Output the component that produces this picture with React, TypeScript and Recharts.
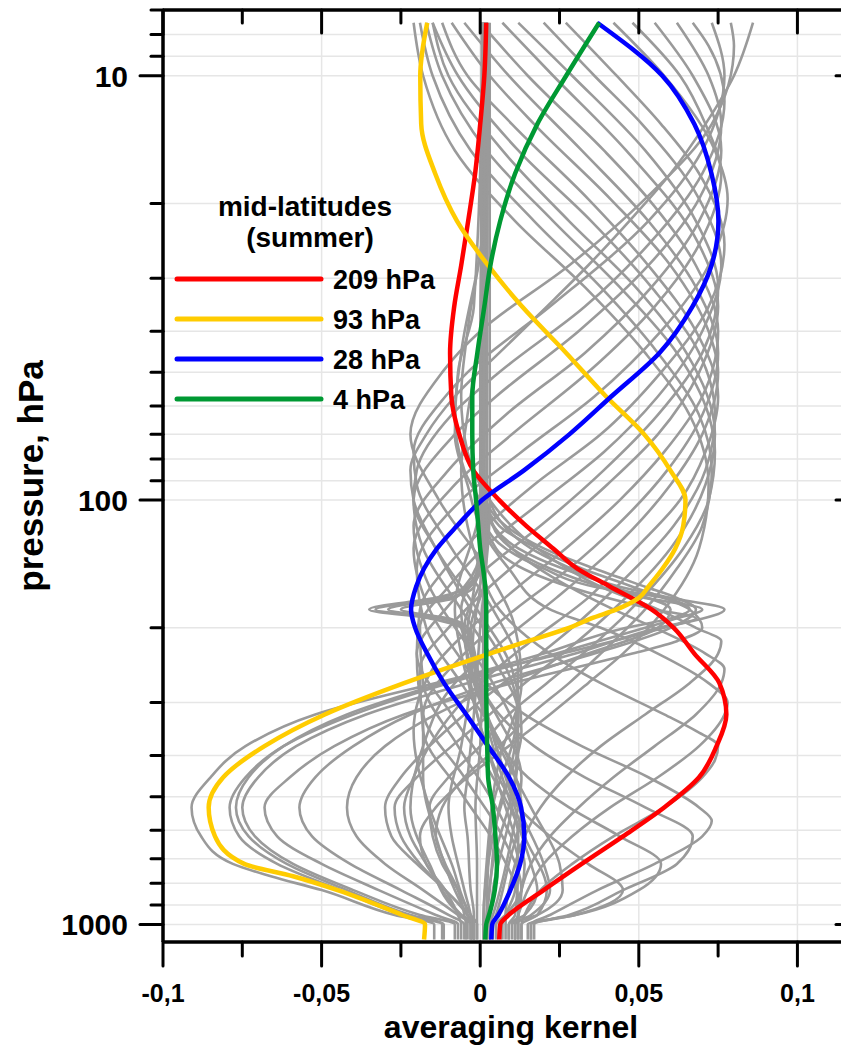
import React from "react";
import {
  ScatterChart,
  Scatter,
  XAxis,
  YAxis,
  CartesianGrid,
  ReferenceLine,
  Label,
} from "recharts";

// every kernel: [pressure hPa, averaging kernel x 1e-3]
const k209: number[][] = [[7.5,1.9],[10,1.3],[13,0],[17,-1.6],[22,-3.8],[28,-6],[35,-8.2],[45,-9.5],[57,-9.1],[70,-6.6],[85,-2.2],[100,6],[115,14.5],[130,23],[145,30.6],[160,41],[181,54],[200,61],[230,67.5],[270,75.4],[320,77.6],[380,74.5],[450,69],[530,58],[620,45],[720,32],[830,20],[950,9],[1000,6.3],[1085,6]];
const k93: number[][] = [[7.5,-16.7],[10,-18.9],[13,-18.6],[17,-14.2],[22,-7.3],[28,2.5],[35,13.2],[45,27.1],[57,39.7],[70,51.7],[85,59.9],[100,64.7],[115,64],[130,61.5],[145,57.5],[160,53],[170,50],[181,43],[190,35],[200,28],[215,15],[230,3],[270,-24],[320,-49],[380,-68],[450,-81],[530,-85.6],[620,-83.6],[720,-74.4],[770,-59],[830,-45],[950,-24.6],[1000,-17.4],[1085,-17.7]];
const k28: number[][] = [[7.5,36.9],[10,57.4],[13,67.5],[17,72.9],[22,75.1],[28,72.9],[35,66.9],[45,56.5],[57,41.3],[70,28.1],[85,13.9],[100,0.6],[115,-7.3],[130,-13.6],[145,-17.7],[160,-20.2],[181,-21.8],[200,-20.5],[230,-16.7],[270,-11.4],[320,-4.4],[380,2.5],[450,9.1],[530,12.9],[620,13.9],[720,12.6],[830,9.5],[950,5.7],[1000,3.8],[1085,3.5]];
const k4: number[][] = [[7.5,37.5],[10,27.1],[13,18],[17,11],[22,6.3],[28,3.2],[35,1.3],[45,-0.9],[57,-2.5],[70,-2.5],[85,-2.2],[100,-1.3],[115,-0.6],[130,0],[145,0.9],[160,1.6],[181,1.9],[200,1.9],[270,1.9],[380,2.2],[450,2.5],[530,4],[620,4.8],[720,5.3],[830,4.6],[950,2.8],[1000,1.9],[1085,1.6]];

// grey kernels of the other levels
const upperKernels: number[][][] = [
  [[7.5,86],[10,80],[13,71],[17,60],[22,47],[28,34],[35,21],[45,6],[57,-8],[70,-17],[85,-22],[100,-21],[130,-14],[181,-3],[230,6],[320,12],[450,9],[620,4],[1000,1],[1085,1]],
  [[7.5,79],[8.5,80],[13,73],[19.5,52],[28,28],[40,0],[50,-12],[70,-22],[100,-13],[145,2],[200,11],[270,13],[410,6],[720,2],[1000,1],[1085,1]],
  [[7.5,73],[10,77],[15,70],[22,53],[35,22],[50,-4],[57,-11],[77,-21],[92,-20],[130,-9],[181,4],[250,12],[350,11],[530,4],[1000,2],[1085,2]],
  [[7.5,67],[8.5,72],[11.5,77],[17,70],[25,53],[35,33],[50,6],[63,-9],[85,-20],[100,-21],[130,-14],[181,-1],[250,10],[350,13],[530,6],[830,3],[1000,2],[1085,2]],
  [[7.5,62],[10,72],[13,76],[19.5,69],[28,53],[40,31],[57,5],[70,-8],[100,-21],[130,-18],[181,-6],[230,3],[320,12],[450,11],[720,4],[1000,2],[1085,2]],
  [[7.5,55],[10,67],[15,76],[22,69],[31.5,54],[45,33],[63,8],[85,-10],[115,-21],[160,-16],[215,-5],[270,4],[380,12],[530,10],[830,4],[1000,3],[1085,3]],
  [[7.5,48],[10,63],[13,71],[17,76],[25,69],[35,55],[50,34],[70,10],[92,-8],[130,-21],[181,-16],[250,-4],[320,5],[450,13],[620,10],[950,4],[1000,3],[1085,3]],
  [[7.5,42],[10,58],[15,74],[19.5,78],[28,72],[40,57],[57,36],[77,13],[100,-6],[145,-20],[200,-17],[270,-6],[380,7],[530,13],[720,9],[950,5],[1000,4],[1085,4]],
  [[7.5,27],[10,43],[13,57],[17,69],[25,77],[35,72],[50,57],[70,38],[92,17],[115,2],[145,-11],[181,-19],[230,-20],[320,-9],[450,4],[620,12],[830,11],[950,8],[1000,7],[1085,7]],
  [[7.5,20],[10,36],[13,51],[19.5,69],[28,76],[40,70],[57,56],[77,39],[100,20],[130,1],[160,-10],[200,-19],[270,-18],[380,-7],[530,5],[720,12],[950,11],[1000,9],[1085,9]],
  [[7.5,12],[10,29],[15,52],[22,68],[31.5,75],[45,70],[63,56],[85,39],[115,19],[145,2],[181,-11],[230,-20],[320,-18],[450,-5],[620,7],[830,13],[950,12],[1000,11],[1085,11]],
  [[7.5,7],[10,23],[15,46],[25,69],[35,75],[50,69],[70,56],[92,40],[130,17],[160,3],[200,-10],[250,-19],[350,-18],[490,-6],[670,6],[880,12],[1000,12],[1085,12]],
  [[7.5,0],[10,15],[15,39],[19.5,53],[28,68],[40,75],[57,70],[77,58],[100,44],[130,27],[160,12],[200,-3],[250,-15],[350,-21],[530,-16],[720,-9],[950,-3],[1000,-1],[1085,-1]],
  [[7.5,-5],[10,9],[15,32],[22,53],[31.5,68],[45,75],[63,70],[85,59],[115,43],[145,28],[181,11],[230,-5],[320,-18],[450,-18],[620,-14],[830,-8],[950,-4],[1000,-2],[1085,-2]],
  [[7.5,-9],[10,3],[13,17],[19.5,41],[28,60],[40,72],[50,75],[70,70],[92,60],[130,42],[170,24],[215,7],[270,-8],[380,-18],[530,-22],[720,-16],[950,-6],[1000,-2],[1085,-2]],
  [[7.5,-12],[10,-4],[13,10],[19.5,34],[28,53],[40,68],[57,75],[77,71],[100,63],[130,49],[170,34],[215,16],[270,0],[350,-13],[450,-21],[530,-24],[620,-22],[720,-17],[950,-6],[1000,-3],[1085,-3]],
  [[7.5,-15],[10,-7],[15,12],[22,35],[31.5,54],[45,69],[63,74],[85,71],[115,61],[160,43],[200,29],[250,13],[320,-5],[380,-16],[450,-25],[530,-30],[620,-28],[720,-20],[830,-11],[950,-4],[1000,-2],[1085,-2]],
  [[7.5,-15],[10,-10],[15,7],[22,28],[31.5,49],[45,65],[70,74],[92,71],[130,60],[181,42],[230,26],[270,14],[320,3],[380,-9],[450,-20],[530,-27],[620,-25],[720,-19],[830,-11],[950,-4],[1000,-3],[1085,-3]],
  [[7.5,-17],[10,-12],[15,2],[22,23],[31.5,44],[45,62],[63,72],[77,74],[100,72],[130,64],[170,51],[215,37],[270,21],[320,9],[380,0],[450,-10],[530,-16],[620,-15],[720,-12],[830,-7],[950,-4],[1000,-4],[1085,-4]],
  [[7.5,-19],[10,-15],[15,-3],[22,17],[31.5,38],[45,56],[63,69],[85,73],[115,70],[145,62],[181,52],[230,38],[270,28],[320,16],[380,6],[450,-5],[530,-12],[620,-14],[720,-11],[830,-7],[950,-5],[1000,-4.5],[1085,-4.5]],
  [[7.5,-21],[10,-18],[15,-8],[22,11],[31.5,33],[45,52],[63,66],[92,72],[130,69],[181,58],[230,45],[270,34],[320,22],[380,9],[450,-4],[530,-14],[620,-19],[720,-17],[830,-11],[950,-7],[1000,-6],[1085,-6]],
];

// kernels peaking sharply near 180-200 hPa, with the deep tropospheric lobes
const spikeKernels: number[][][] = [
  [[7.5,1],[50,1],[85,0],[100,1],[115,4],[130,12],[145,26],[160,44],[170,60],[181,77],[200,58],[230,26],[270,-14],[320,-52],[380,-74],[450,-85],[530,-91],[620,-88],[720,-78],[770,-66],[830,-50],[950,-27],[1000,-14.5],[1085,-14.5]],
  [[7.5,2],[45,2],[85,1],[115,4],[130,10],[145,22],[160,38],[170,52],[181,70],[190,62],[200,52],[230,24],[270,-10],[320,-40],[380,-62],[450,-74],[530,-79],[620,-76],[720,-64],[830,-44],[950,-24],[1000,-12],[1085,-12]],
  [[7.5,2],[40,2],[85,0],[115,2],[130,8],[145,20],[160,36],[170,58],[181,66],[190,60],[200,46],[230,20],[270,-12],[320,-42],[380,-62],[450,-73],[530,-77],[620,-73],[720,-61],[830,-42],[950,-22],[1000,-11.5],[1085,-11.5]],
  [[7.5,1],[45,1],[100,0],[130,5],[160,28],[181,55],[190,68],[200,56],[230,30],[270,-4],[320,-36],[380,-58],[450,-70],[530,-75],[620,-71],[720,-59],[830,-40],[950,-19],[1000,-8],[1085,-8]],
  [[7.5,2],[50,1],[92,0],[115,6],[130,18],[145,32],[160,48],[181,66],[200,70],[215,62],[230,48],[270,10],[320,-24],[380,-46],[450,-60],[530,-68],[620,-64],[720,-50],[830,-32],[950,-14],[1000,-7],[1085,-7]],
  [[7.5,1],[57,0],[100,2],[115,8],[130,20],[145,36],[160,52],[170,62],[181,68],[200,60],[230,36],[270,4],[320,-22],[380,-40],[450,-52],[530,-57],[620,-53],[720,-41],[830,-25],[950,-10],[1000,-5],[1085,-5]],
  [[7.5,1],[70,0],[100,3],[130,16],[160,42],[181,60],[200,56],[230,34],[270,8],[320,-14],[380,-30],[450,-39],[530,-42],[620,-39],[720,-30],[830,-18],[950,-7],[1000,-3],[1085,-3]],
];

const midKernels: number[][][] = [
  [[7.5,2],[22,1],[40,-4],[57,-6],[77,-4],[100,3],[130,18],[160,38],[181,56],[200,68],[215,76],[230,75],[270,66],[320,52],[380,38],[450,27],[530,19],[620,14],[720,11],[830,9],[950,8],[1000,8],[1085,8]],
  [[7.5,2],[22,1],[45,-6],[63,-8],[85,-5],[100,0],[130,10],[160,28],[181,42],[200,55],[230,71],[250,77],[270,76],[320,68],[380,55],[450,42],[530,31],[620,22],[720,16],[830,13],[950,12],[1000,12],[1085,12]],
  [[7.5,1],[35,-2],[50,-7],[70,-8],[92,-4],[115,0],[145,9],[181,22],[200,38],[230,56],[270,72],[300,78],[320,77],[380,69],[450,56],[530,41],[620,29],[720,20],[830,15],[950,12],[1000,11],[1085,11]],
  [[7.5,1],[40,0],[63,-4],[85,-6],[115,-4],[145,0],[181,6],[230,22],[270,38],[320,58],[350,68],[380,75],[410,74],[450,70],[530,58],[620,42],[720,29],[830,19],[950,14],[1000,13],[1085,13]],
];

const lowKernels: number[][][] = [
  [[7.5,1],[100,1],[145,-1],[181,-3],[200,-4],[230,-3],[270,2],[320,14],[380,32],[450,53],[530,69],[570,73],[620,70],[720,55],[830,37],[950,22],[1000,16],[1085,16]],
  [[7.5,2],[115,2],[160,-2],[170,-10],[181,-33],[190,-12],[200,-5],[230,-2],[270,0],[320,6],[380,17],[450,33],[530,52],[620,67],[720,62],[830,45],[950,28],[1000,17],[1085,17]],
  [[7.5,1],[130,1],[160,-4],[170,-14],[181,-35],[190,-16],[200,-6],[230,-3],[320,2],[450,15],[530,28],[620,44],[720,57],[830,50],[950,30],[1000,15],[1085,15]],
  [[7.5,1],[130,0],[160,-5],[170,-12],[181,-29],[190,-12],[200,-6],[270,-3],[380,2],[530,12],[620,22],[720,34],[830,45],[950,30],[1000,16],[1085,16]],
  [[7.5,2],[145,0],[170,-8],[181,-25],[190,-10],[200,-4],[270,0],[380,5],[530,12],[720,20],[830,22],[950,16],[1000,11],[1085,11]],
  [[7.5,1],[100,1],[160,0],[200,-2],[270,-3],[380,-6],[530,-10],[620,-9],[720,-7],[830,-5],[950,-3],[1000,-2.5],[1085,-2.5]],
  [[7.5,2],[130,2],[200,0],[320,-2],[450,-4],[530,-5],[620,-4],[830,-3],[950,-2],[1000,-2],[1085,-2]],
  [[7.5,1],[200,1],[380,0],[530,-1.5],[720,-1],[950,-1],[1000,-1],[1085,-1]],
  [[7.5,3],[100,3],[160,1],[200,-3],[270,-1],[380,4],[530,10],[720,16],[830,18],[950,14],[1000,9],[1085,9]],
  [[7.5,2.5],[130,2],[181,-6],[230,-4],[320,2],[450,8],[620,14],[830,21],[950,18],[1000,13],[1085,13]],
  [[7.5,0.5],[100,0],[181,-8],[230,-6],[320,-1],[450,5],[620,11],[720,14],[830,13],[950,8],[1000,5],[1085,5]],
  [[7.5,1.5],[145,1],[200,-5],[270,-2],[380,6],[530,16],[720,25],[830,26],[950,18],[1000,10],[1085,10]],
];

const xTicks = [-0.1, -0.075, -0.05, -0.025, 0, 0.025, 0.05, 0.075, 0.1];
const xMajor = [-0.1, -0.05, 0, 0.05, 0.1];
const xGrid = [-0.05, 0, 0.05, 0.1];
const yTicks = [7, 8, 9, 10, 20, 30, 40, 50, 60, 70, 80, 90, 100, 200, 300, 400, 500, 600, 700, 800, 900, 1000];
const yMajor = [10, 100, 1000];

const legendItems = [
  { label: "209 hPa", color: "#ff0000", data: k209 },
  { label: "93 hPa", color: "#ffcc00", data: k93 },
  { label: "28 hPa", color: "#0000ff", data: k28 },
  { label: "4 hPa", color: "#009933", data: k4 },
];

const FONT = '"Liberation Sans", Arial, Helvetica, sans-serif';
const W = 838;
const H = 1038;
const PL = 155;
const PT = 2;
const PR = 837;
const PB = 934;
const GREY = "#9a9a9a";
const GRID = "#e6e6e6";

const toPts = (rows: number[][]) => rows.map(([p, k]) => ({ p, v: k / 1000 }));
const isMajorX = (v: number) => xMajor.some((m) => Math.abs(m - v) < 1e-9);
const fmtX = (v: number) => (v === 0 ? "0" : String(v).replace(".", ","));
const noDot = () => <g />;

function BottomTick(props: any) {
  const { x, payload } = props;
  const major = isMajorX(payload.value);
  return (
    <g>
      <line x1={x} x2={x} y1={PB} y2={PB + (major ? 24 : 14)} stroke="#000" strokeWidth={3} strokeLinecap="round" />
      {major && (
        <text x={x} y={PB + 60} textAnchor="middle" fontSize={25} fontWeight="bold" fontFamily={FONT} fill="#000">
          {fmtX(payload.value)}
        </text>
      )}
    </g>
  );
}

function TopTick(props: any) {
  const { x, payload } = props;
  const major = isMajorX(payload.value);
  return <line x1={x} x2={x} y1={PT} y2={PT + (major ? 23 : 13)} stroke="#000" strokeWidth={3} strokeLinecap="round" />;
}

function LeftTick(props: any) {
  const { y, payload } = props;
  const major = yMajor.includes(payload.value);
  return (
    <g>
      <line x1={PL - (major ? 23 : 12)} x2={PL} y1={y} y2={y} stroke="#000" strokeWidth={3} strokeLinecap="round" />
      {major && (
        <text x={PL - 35} y={y + 11} textAnchor="end" fontSize={30} fontWeight="bold" fontFamily={FONT} fill="#000">
          {payload.value}
        </text>
      )}
    </g>
  );
}

function RightTick(props: any) {
  const { y } = props;
  return <line x1={PR - 9} x2={PR} y1={y} y2={y} stroke="#000" strokeWidth={3} strokeLinecap="round" />;
}

export default function App() {
  const greys = [...upperKernels, ...spikeKernels, ...midKernels, ...lowKernels];
  return (
    <div style={{ position: "fixed", left: 0, top: 0, width: 841, height: 1046, overflow: "hidden", fontFamily: FONT, background: "#fff" }}>
      <div style={{ position: "absolute", left: 8, top: 8, width: W, height: H }}>
        <ScatterChart width={W} height={H} margin={{ top: PT - 1, right: 0, bottom: 0, left: 0 }}>
          <CartesianGrid xAxisId="bottom" yAxisId="left" vertical={false} stroke={GRID} strokeWidth={1.5} />
          {xGrid.map((v) => (
            <ReferenceLine key={v} x={v} xAxisId="bottom" yAxisId="left" stroke={GRID} strokeWidth={1.5} />
          ))}
          <XAxis
            xAxisId="bottom"
            type="number"
            dataKey="v"
            domain={[-0.1, 0.115]}
            allowDataOverflow
            ticks={xTicks}
            interval={0}
            tick={<BottomTick />}
            tickLine={false}
            axisLine={{ stroke: "#000", strokeWidth: 3.5 }}
            height={H - PB}
          >
            <Label
              content={() => (
                <text x={503} y={1030} textAnchor="middle" fontSize={32} fontWeight="bold" fontFamily={FONT} fill="#000">
                  averaging kernel
                </text>
              )}
            />
          </XAxis>
          <XAxis
            xAxisId="top"
            orientation="top"
            type="number"
            dataKey="v"
            domain={[-0.1, 0.115]}
            allowDataOverflow
            ticks={xTicks}
            interval={0}
            tick={<TopTick />}
            tickLine={false}
            axisLine={{ stroke: "#000", strokeWidth: 3.5 }}
            height={1}
          />
          <YAxis
            yAxisId="left"
            type="number"
            dataKey="p"
            scale="log"
            domain={[7, 1100]}
            reversed
            allowDataOverflow
            ticks={yTicks}
            interval={0}
            tick={<LeftTick />}
            tickLine={false}
            axisLine={{ stroke: "#000", strokeWidth: 3.5 }}
            width={PL}
          >
            <Label
              content={() => (
                <text x={35} y={468} transform="rotate(-90 35 468)" textAnchor="middle" fontSize={35} fontWeight="bold" fontFamily={FONT} fill="#000">
                  pressure, hPa
                </text>
              )}
            />
          </YAxis>
          <YAxis
            yAxisId="right"
            orientation="right"
            type="number"
            dataKey="p"
            scale="log"
            domain={[7, 1100]}
            reversed
            allowDataOverflow
            ticks={yMajor}
            interval={0}
            tick={<RightTick />}
            tickLine={false}
            axisLine={{ stroke: "#000", strokeWidth: 3.5 }}
            width={1}
          />
          {greys.map((k, i) => (
            <Scatter
              key={`g${i}`}
              data={toPts(k)}
              xAxisId="bottom"
              yAxisId="left"
              fill={GREY}
              line={{ stroke: GREY, strokeWidth: 2.6 }}
              lineJointType="monotoneY"
              shape={noDot}
              isAnimationActive={false}
            />
          ))}
          {legendItems.map((s) => (
            <Scatter
              key={s.label}
              data={toPts(s.data)}
              xAxisId="bottom"
              yAxisId="left"
              fill={s.color}
              line={{ stroke: s.color, strokeWidth: 4.5 }}
              lineJointType="monotoneY"
              shape={noDot}
              isAnimationActive={false}
            />
          ))}
        </ScatterChart>
        <svg width={W} height={H} style={{ position: "absolute", left: 0, top: 0, pointerEvents: "none" }}>
          <text x={297} y={208} textAnchor="middle" fontSize={28} fontWeight="bold" fontFamily={FONT}>mid-latitudes</text>
          <text x={302} y={239} textAnchor="middle" fontSize={28} fontWeight="bold" fontFamily={FONT}>(summer)</text>
          {legendItems.map((s, i) => (
            <g key={s.label}>
              <line x1={169} x2={313} y1={271 + i * 40} y2={271 + i * 40} stroke={s.color} strokeWidth={5} strokeLinecap="round" />
              <text x={325} y={281 + i * 40} fontSize={27} fontWeight="bold" fontFamily={FONT}>{s.label}</text>
            </g>
          ))}
        </svg>
      </div>
    </div>
  );
}
